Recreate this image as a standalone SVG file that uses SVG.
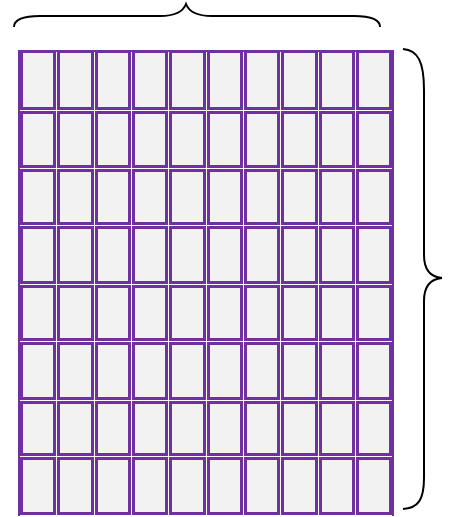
<svg xmlns="http://www.w3.org/2000/svg" width="459" height="517" viewBox="0 0 459 517">
<style>
.c{fill:#f2f2f2;stroke:#7030a0;stroke-width:3}
.b{fill:none;stroke:#000;stroke-width:2}
</style>
<rect width="459" height="517" fill="#fff"/>
<g id="grid">
<g id="row1">
<rect class="c" x="21.5" y="51.5" width="33" height="57"/><rect class="c" x="58.5" y="51.5" width="34" height="57"/><rect class="c" x="96.5" y="51.5" width="33" height="57"/><rect class="c" x="133.5" y="51.5" width="33" height="57"/><rect class="c" x="170.5" y="51.5" width="34" height="57"/><rect class="c" x="208.5" y="51.5" width="33" height="57"/><rect class="c" x="245.5" y="51.5" width="33" height="57"/><rect class="c" x="282.5" y="51.5" width="34" height="57"/><rect class="c" x="320.5" y="51.5" width="33" height="57"/><rect class="c" x="357.5" y="51.5" width="33" height="57"/>
</g>
<g id="row2">
<rect class="c" x="21.5" y="112.5" width="33" height="54"/><rect class="c" x="58.5" y="112.5" width="34" height="54"/><rect class="c" x="96.5" y="112.5" width="33" height="54"/><rect class="c" x="133.5" y="112.5" width="33" height="54"/><rect class="c" x="170.5" y="112.5" width="34" height="54"/><rect class="c" x="208.5" y="112.5" width="33" height="54"/><rect class="c" x="245.5" y="112.5" width="33" height="54"/><rect class="c" x="282.5" y="112.5" width="34" height="54"/><rect class="c" x="320.5" y="112.5" width="33" height="54"/><rect class="c" x="357.5" y="112.5" width="33" height="54"/>
</g>
<g id="row3">
<rect class="c" x="21.5" y="170.5" width="33" height="53"/><rect class="c" x="58.5" y="170.5" width="34" height="53"/><rect class="c" x="96.5" y="170.5" width="33" height="53"/><rect class="c" x="133.5" y="170.5" width="33" height="53"/><rect class="c" x="170.5" y="170.5" width="34" height="53"/><rect class="c" x="208.5" y="170.5" width="33" height="53"/><rect class="c" x="245.5" y="170.5" width="33" height="53"/><rect class="c" x="282.5" y="170.5" width="34" height="53"/><rect class="c" x="320.5" y="170.5" width="33" height="53"/><rect class="c" x="357.5" y="170.5" width="33" height="53"/>
</g>
<g id="row4">
<rect class="c" x="21.5" y="227.5" width="33" height="55"/><rect class="c" x="58.5" y="227.5" width="34" height="55"/><rect class="c" x="96.5" y="227.5" width="33" height="55"/><rect class="c" x="133.5" y="227.5" width="33" height="55"/><rect class="c" x="170.5" y="227.5" width="34" height="55"/><rect class="c" x="208.5" y="227.5" width="33" height="55"/><rect class="c" x="245.5" y="227.5" width="33" height="55"/><rect class="c" x="282.5" y="227.5" width="34" height="55"/><rect class="c" x="320.5" y="227.5" width="33" height="55"/><rect class="c" x="357.5" y="227.5" width="33" height="55"/>
</g>
<g id="row5">
<rect class="c" x="21.5" y="286.5" width="33" height="53"/><rect class="c" x="58.5" y="286.5" width="34" height="53"/><rect class="c" x="96.5" y="286.5" width="33" height="53"/><rect class="c" x="133.5" y="286.5" width="33" height="53"/><rect class="c" x="170.5" y="286.5" width="34" height="53"/><rect class="c" x="208.5" y="286.5" width="33" height="53"/><rect class="c" x="245.5" y="286.5" width="33" height="53"/><rect class="c" x="282.5" y="286.5" width="34" height="53"/><rect class="c" x="320.5" y="286.5" width="33" height="53"/><rect class="c" x="357.5" y="286.5" width="33" height="53"/>
</g>
<g id="row6">
<rect class="c" x="21.5" y="343.5" width="33" height="55"/><rect class="c" x="58.5" y="343.5" width="34" height="55"/><rect class="c" x="96.5" y="343.5" width="33" height="55"/><rect class="c" x="133.5" y="343.5" width="33" height="55"/><rect class="c" x="170.5" y="343.5" width="34" height="55"/><rect class="c" x="208.5" y="343.5" width="33" height="55"/><rect class="c" x="245.5" y="343.5" width="33" height="55"/><rect class="c" x="282.5" y="343.5" width="34" height="55"/><rect class="c" x="320.5" y="343.5" width="33" height="55"/><rect class="c" x="357.5" y="343.5" width="33" height="55"/>
</g>
<g id="row7">
<rect class="c" x="21.5" y="402.5" width="33" height="52"/><rect class="c" x="58.5" y="402.5" width="34" height="52"/><rect class="c" x="96.5" y="402.5" width="33" height="52"/><rect class="c" x="133.5" y="402.5" width="33" height="52"/><rect class="c" x="170.5" y="402.5" width="34" height="52"/><rect class="c" x="208.5" y="402.5" width="33" height="52"/><rect class="c" x="245.5" y="402.5" width="33" height="52"/><rect class="c" x="282.5" y="402.5" width="34" height="52"/><rect class="c" x="320.5" y="402.5" width="33" height="52"/><rect class="c" x="357.5" y="402.5" width="33" height="52"/>
</g>
<g id="row8">
<rect class="c" x="21.5" y="458.5" width="33" height="55"/><rect class="c" x="58.5" y="458.5" width="34" height="55"/><rect class="c" x="96.5" y="458.5" width="33" height="55"/><rect class="c" x="133.5" y="458.5" width="33" height="55"/><rect class="c" x="170.5" y="458.5" width="34" height="55"/><rect class="c" x="208.5" y="458.5" width="33" height="55"/><rect class="c" x="245.5" y="458.5" width="33" height="55"/><rect class="c" x="282.5" y="458.5" width="34" height="55"/><rect class="c" x="320.5" y="458.5" width="33" height="55"/><rect class="c" x="357.5" y="458.5" width="33" height="55"/>
</g>
<path d="M19,50 V516 M393,50 V516 M19,51 H393" fill="none" stroke="#7030a0" stroke-width="2"/>
</g>
<g id="braces">
<path id="top-brace" class="b" d="M14,27 C14,20 22,16 40,16 L160,16 C175,16 183,12 186,4 C189,12 197,16 212,16 L354,16 C372,16 380,20 380,27"/>
<path id="right-brace" class="b" d="M403,49 C418,50 424,62 424,90 L424,255 C424,270 430,277 442,278 C430,279 424,286 424,301 L424,478 C424,500 418,508 403,509"/>
</g>
</svg>
